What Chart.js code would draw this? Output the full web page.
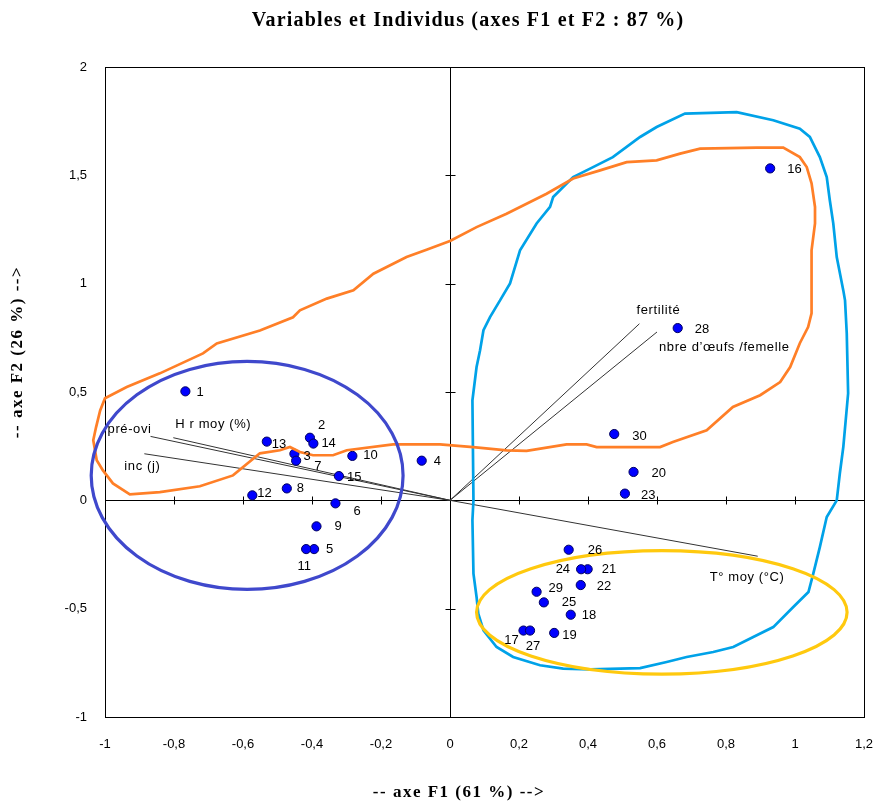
<!DOCTYPE html>
<html><head><meta charset="utf-8">
<script src="https://cdn.jsdelivr.net/npm/chart.js@4/dist/chart.umd.min.js"></script>
<style>html,body{margin:0;padding:0;background:#fff;}canvas{display:block}</style>
</head><body>
<canvas id="c" width="875" height="802"></canvas>
<script>
// ---------- DATA ----------
const titleText = "Variables et Individus (axes F1 et F2 : 87 %)";
const xAxisTitle = "-- axe F1 (61 %) -->";
const yAxisTitle = "-- axe F2 (26 %) -->";

const xTickValues = [-1, -0.8, -0.6, -0.4, -0.2, 0, 0.2, 0.4, 0.6, 0.8, 1, 1.2];
const xTickLabels = ["-1", "-0,8", "-0,6", "-0,4", "-0,2", "0", "0,2", "0,4", "0,6", "0,8", "1", "1,2"];
const yTickValues = [-1, -0.5, 0, 0.5, 1, 1.5, 2];
const yTickLabels = ["-1", "-0,5", "0", "0,5", "1", "1,5", "2"];

// individuals (observations)
const indLabels = ["1","2","3","4","5","6","7","8","9","10","11","12","13","14","15",
                   "16","17","18","19","20","21","22","23","24","25","26","27","28","29","30"];
const indF1 = [-0.767, -0.406, -0.451, -0.082, -0.394, -0.332, -0.446, -0.473, -0.387, -0.283,
               -0.417, -0.573, -0.531, -0.396, -0.322, 0.928, 0.213, 0.350, 0.302, 0.532,
               0.399, 0.379, 0.507, 0.380, 0.272, 0.344, 0.232, 0.660, 0.251, 0.476];
const indF2 = [0.503, 0.289, 0.215, 0.183, -0.225, -0.014, 0.183, 0.055, -0.120, 0.205,
               -0.225, 0.023, 0.271, 0.262, 0.112, 1.532, -0.601, -0.528, -0.612, 0.131,
               -0.318, -0.391, 0.031, -0.318, -0.471, -0.228, -0.601, 0.795, -0.422, 0.306];

// variables (loading vectors)
const varLabels = ["pré-ovi", "H r moy (%)", "inc (j)", "fertilité", "nbre d’œufs /femelle", "T° moy (°C)"];
const varF1 = [-0.868, -0.802, -0.886, 0.549, 0.600, 0.892];
const varF2 = [0.295, 0.289, 0.215, 0.815, 0.777, -0.258];

// hand-drawn enclosing curves (traced)
const orangeF1 = [0, -0.068, -0.126, -0.222, -0.280, -0.357, -0.435, -0.455, -0.551, -0.676, -0.716, -0.841, -0.937, -1.0, -1.014, -1.026, -1.034, -1.024, -1.006, -0.977, -0.928, -0.841, -0.725, -0.629, -0.551, -0.493, -0.464, -0.435, -0.397, -0.339, -0.299, -0.165, -0.029, 0.067, 0.164, 0.222, 0.338, 0.396, 0.425, 0.609, 0.646, 0.744, 0.820, 0.899, 0.957, 0.986, 1.014, 1.038, 1.048, 1.048, 1.058, 1.058, 1.048, 1.034, 1.014, 0.966, 0.889, 0.725, 0.667, 0.599, 0.512, 0.435, 0.357, 0.280, 0.164, 0.077, 0];
const orangeF2 = [1.197, 1.157, 1.123, 1.046, 0.969, 0.931, 0.877, 0.845, 0.784, 0.724, 0.678, 0.586, 0.523, 0.471, 0.415, 0.337, 0.277, 0.185, 0.138, 0.078, 0.028, 0.038, 0.065, 0.115, 0.217, 0.231, 0.246, 0.223, 0.208, 0.208, 0.231, 0.258, 0.258, 0.246, 0.231, 0.228, 0.258, 0.258, 0.246, 0.246, 0.269, 0.323, 0.431, 0.485, 0.546, 0.615, 0.725, 0.800, 0.863, 1.154, 1.278, 1.354, 1.463, 1.538, 1.584, 1.628, 1.628, 1.623, 1.600, 1.569, 1.561, 1.523, 1.485, 1.415, 1.323, 1.261, 1.197];
const cyanF1 = [0.145, 0.174, 0.203, 0.251, 0.290, 0.299, 0.357, 0.406, 0.472, 0.551, 0.599, 0.681, 0.831, 0.937, 1.014, 1.043, 1.072, 1.092, 1.101, 1.111, 1.121, 1.140, 1.145, 1.150, 1.154, 1.140, 1.130, 1.121, 1.092, 1.072, 1.053, 1.039, 0.995, 0.937, 0.879, 0.821, 0.763, 0.686, 0.628, 0.551, 0.406, 0.328, 0.261, 0.183, 0.135, 0.097, 0.082, 0.077, 0.068, 0.065, 0.068, 0.065, 0.077, 0.087, 0.097, 0.116, 0.145];
const cyanF2 = [0.923, 1.001, 1.154, 1.278, 1.354, 1.400, 1.492, 1.531, 1.584, 1.677, 1.723, 1.785, 1.792, 1.754, 1.715, 1.677, 1.584, 1.492, 1.384, 1.277, 1.123, 0.969, 0.923, 0.771, 0.494, 0.246, 0.125, 0, -0.077, -0.216, -0.338, -0.423, -0.492, -0.585, -0.631, -0.677, -0.700, -0.723, -0.746, -0.774, -0.780, -0.777, -0.761, -0.723, -0.677, -0.600, -0.523, -0.446, -0.338, -0.092, 0, 0.461, 0.615, 0.692, 0.785, 0.846, 0.923];
// ellipses: [centre F1, centre F2, radius F1, radius F2]
const blueEllipse = [-0.588, 0.115, 0.452, 0.526];
const goldEllipse = [0.614, -0.517, 0.537, 0.285];

// ---------- STYLE (label placement: align, dx px, dy px) ----------
const indLabelPlace = [
  ['left',11,1],['left',8,-12],['left',9,3],['left',12,1],['left',12,0],['left',18,8],['left',18,6],
  ['left',10,0],['left',18,0],['left',11,0],['center',-2,17],['left',5,-2],['left',5,3],['left',8,0],
  ['left',8,1],['left',17,1],['center',-12,10],['left',11,1],['left',8,2],['left',18,1],['left',14,0],
  ['left',16,1],['left',16,2],['right',-11,0],['left',18,0],['left',19,1],['center',3,16],['left',17,1],
  ['left',12,-3],['left',18,2]
];
const varLabelPlace = [['right',1,-7],['left',2,-13],['left',-20,13],['center',19,-13],['left',2,15],['left',-48,21]];

const LABEL_FONT = '13px "Liberation Sans", Arial, sans-serif';

const datasets = [];
datasets.push({
  label: 'orange', data: orangeF1.map((x,i)=>({x, y: orangeF2[i]})),
  showLine: true, borderColor: '#FF7F27', borderWidth: 2.7, pointRadius: 0, tension: 0, clip: false, order: 0, fill: false
});
datasets.push({
  label: 'cyan', data: cyanF1.map((x,i)=>({x, y: cyanF2[i]})),
  showLine: true, borderColor: '#00A2E8', borderWidth: 2.7, pointRadius: 0, tension: 0, clip: false, order: 0, fill: false
});
datasets.push({
  label: 'individus', data: indF1.map((x,i)=>({x, y: indF2[i]})),
  showLine: false, pointRadius: 4.6, backgroundColor: '#0000FF', borderColor: '#000060', borderWidth: 1, order: 1, clip: false
});
varF1.forEach((x,i)=>{
  datasets.push({
    label: varLabels[i], data: [{x:0,y:0},{x, y: varF2[i]}],
    showLine: true, borderColor: '#333333', borderWidth: 1, pointRadius: 0, order: 2, clip: false
  });
});

const decor = {
  id: 'decor',
  beforeDatasetsDraw(chart) {
    const {ctx, chartArea: a, scales: {x, y}} = chart;
    ctx.save();
    ctx.strokeStyle = '#000'; ctx.lineWidth = 1;
    ctx.strokeRect(Math.round(a.left)+0.5, Math.round(a.top)+0.5, Math.round(a.right-a.left), Math.round(a.bottom-a.top));
    const x0 = Math.round(x.getPixelForValue(0))+0.5, y0 = Math.round(y.getPixelForValue(0))+0.5;
    ctx.beginPath();
    ctx.moveTo(x0, a.top); ctx.lineTo(x0, a.bottom);
    ctx.moveTo(a.left, y0); ctx.lineTo(a.right, y0);
    xTickValues.forEach(v => { const px = Math.round(x.getPixelForValue(v))+0.5; ctx.moveTo(px, y0-4); ctx.lineTo(px, y0+4); });
    yTickValues.forEach(v => { const py = Math.round(y.getPixelForValue(v))+0.5; ctx.moveTo(x0-5, py); ctx.lineTo(x0+5, py); });
    ctx.stroke();
    ctx.restore();
  },
  afterDatasetsDraw(chart) {
    const {ctx, scales: {x, y}} = chart;
    ctx.save();
    [[blueEllipse, '#3F48CC'], [goldEllipse, '#FFC90E']].forEach(([e, col]) => {
      const cx = x.getPixelForValue(e[0]), cy = y.getPixelForValue(e[1]);
      const rx = Math.abs(x.getPixelForValue(e[0]+e[2]) - cx), ry = Math.abs(y.getPixelForValue(e[1]+e[3]) - cy);
      ctx.beginPath(); ctx.ellipse(cx, cy, rx, ry, 0, 0, Math.PI*2);
      ctx.strokeStyle = col; ctx.lineWidth = 3.2; ctx.stroke();
    });
    ctx.fillStyle = '#000'; ctx.font = LABEL_FONT; ctx.textBaseline = 'middle';
    indLabels.forEach((t,i) => {
      const [al, dx, dy] = indLabelPlace[i];
      ctx.textAlign = al;
      ctx.fillText(t, x.getPixelForValue(indF1[i]) + dx, y.getPixelForValue(indF2[i]) + dy);
    });
    if ('letterSpacing' in ctx) ctx.letterSpacing = '0.6px';
    varLabels.forEach((t,i) => {
      const [al, dx, dy] = varLabelPlace[i];
      ctx.textAlign = al;
      ctx.fillText(t, x.getPixelForValue(varF1[i]) + dx, y.getPixelForValue(varF2[i]) + dy);
    });
    ctx.restore();
  },
  afterDraw(chart) {
    const {ctx} = chart;
    ctx.save();
    ctx.fillStyle = '#000'; ctx.textAlign = 'center'; ctx.textBaseline = 'middle';
    if ('letterSpacing' in ctx) ctx.letterSpacing = '1.2px';
    ctx.font = 'bold 20px "Liberation Serif", "Times New Roman", serif';
    ctx.fillText(titleText, 468, 21);
    if ('letterSpacing' in ctx) ctx.letterSpacing = '1.5px';
    ctx.font = 'bold 17px "Liberation Serif", "Times New Roman", serif';
    ctx.fillText(xAxisTitle, 459, 793);
    ctx.translate(18, 352); ctx.rotate(-Math.PI/2);
    ctx.fillText(yAxisTitle, 0, 0);
    ctx.restore();
  }
};

new Chart(document.getElementById('c'), {
  type: 'scatter',
  data: { datasets },
  options: {
    responsive: false, animation: false, devicePixelRatio: 1,
    layout: { padding: { left: 45, right: 11, top: 67, bottom: 45 } },
    plugins: { legend: { display: false }, tooltip: { enabled: false }, title: { display: false } },
    scales: {
      x: {
        type: 'linear', min: -1, max: 1.2,
        grid: { display: false, drawTicks: false }, border: { display: false },
        afterBuildTicks: s => { s.ticks = xTickValues.map(v => ({ value: v })); },
        afterFit: s => { s.height = 40; s.paddingLeft = 0; s.paddingRight = 0; },
        ticks: { padding: 20, autoSkip: false, maxRotation: 0, color: '#000',
          font: { family: '"Liberation Sans", Arial, sans-serif', size: 13 },
          callback: (v, i) => xTickLabels[i] }
      },
      y: {
        type: 'linear', min: -1, max: 2,
        grid: { display: false, drawTicks: false }, border: { display: false },
        afterBuildTicks: s => { s.ticks = yTickValues.map(v => ({ value: v })); },
        afterFit: s => { s.width = 60; s.paddingTop = 0; s.paddingBottom = 0; },
        ticks: { padding: 18, autoSkip: false, color: '#000',
          font: { family: '"Liberation Sans", Arial, sans-serif', size: 13 },
          callback: (v, i) => yTickLabels[i] }
      }
    }
  },
  plugins: [decor]
});
</script>
</body></html>
